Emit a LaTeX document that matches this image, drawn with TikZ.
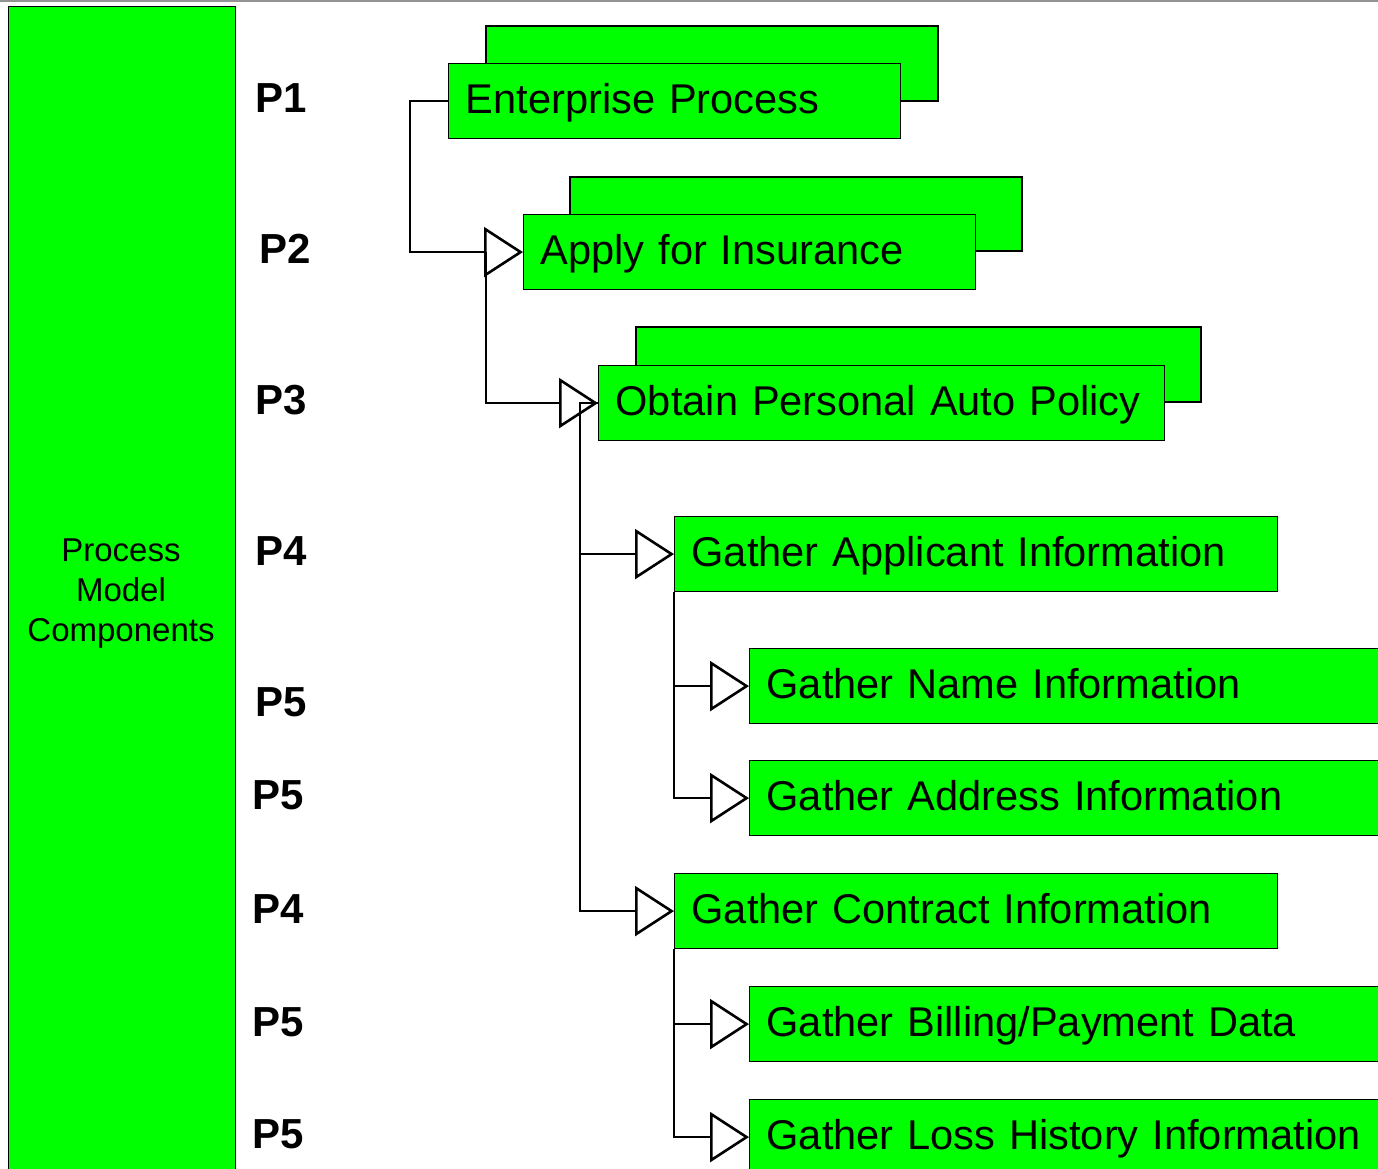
\documentclass[tikz,border=0pt]{standalone}
\usepackage{fontspec}
\setmainfont{Liberation Sans}
\usetikzlibrary{arrows.meta}
\definecolor{boxgreen}{HTML}{00FF00}
\begin{document}
\begin{tikzpicture}[x=1pt,y=-1pt,
  procbox/.style={draw=black, line width=1.2pt, fill=boxgreen, anchor=north west,
    inner xsep=17pt, inner ysep=0pt, minimum height=75pt, text width=#1, align=left,
    text height=32pt, text depth=7pt, font=\fontsize{41.6}{48}\selectfont},
  backbox/.style={draw=black, line width=1.2pt, fill=boxgreen},
  plabel/.style={anchor=west, inner sep=0pt, font=\fontsize{42}{48}\selectfont\bfseries},
  conn/.style={draw=black, line width=2pt,
    -{Triangle[open, length=39pt, width=50pt, line width=2.6pt, fill=white]}},
  trunk/.style={draw=black, line width=2pt}]
\useasboundingbox (0,0) rectangle (1378,1169);
\clip (0,0) rectangle (1378,1169);
\draw[gray!85, line width=1.6pt] (0,0.8) -- (1378,0.8);

% left bar
\node[draw=black, line width=1.2pt, fill=boxgreen, anchor=north west, minimum width=227pt,
  minimum height=1180pt, inner sep=0pt] (bar) at (8,6) {};
\node[align=center, font=\fontsize{33}{40}\selectfont, inner sep=0pt] (bartext) at (121,594)
  {Process\\Model\\Components};

% level labels
\node[plabel] (l1) at (255,98) {P1};
\node[plabel] (l2) at (259,249) {P2};
\node[plabel] (l3) at (255,400) {P3};
\node[plabel] (l4) at (255,551) {P4};
\node[plabel] (l5) at (255,702) {P5};
\node[plabel] (l6) at (252,795) {P5};
\node[plabel] (l7) at (252,909) {P4};
\node[plabel] (l8) at (252,1022) {P5};
\node[plabel] (l9) at (252,1134) {P5};

% stacked boxes (back sheets)
\draw[backbox] (486,26) rectangle (938,101);
\node[procbox=418pt] (ep) at (448,63) {Enterprise Process};
\draw[backbox] (570,177) rectangle (1022,251);
\node[procbox=418pt] (ai) at (523,214) {Apply for Insurance};
\draw[backbox] (636,327) rectangle (1201,402);
\node[procbox=532pt] (op) at (598,365) {Obtain Personal Auto Policy};

% single boxes
\node[procbox=569pt] (ga) at (674,516) {Gather Applicant Information};
\node[procbox=620pt] (gn) at (749,648) {Gather Name Information};
\node[procbox=620pt] (gd) at (749,760) {Gather Address Information};
\node[procbox=569pt] (gc) at (674,873) {Gather Contract Information};
\node[procbox=620pt] (gb) at (749,986) {Gather Billing/Payment Data};
\node[procbox=620pt] (gl) at (749,1099) {Gather Loss History Information};

% connectors
\draw[conn] (ep.west) -- ++(-38,0) |- (ai.west);
\draw[conn] ([xshift=-37pt]ai.west) |- (op.west);
\draw[conn] (op.west) -- ++(-18,0) |- (ga.west);
\draw[conn] (op.west) -- ++(-18,0) |- (gc.west);
\draw[conn] (ga.south west) |- (gn.west);
\draw[conn] (ga.south west) |- (gd.west);
\draw[conn] (gc.south west) |- (gb.west);
\draw[conn] (gc.south west) |- (gl.west);
\end{tikzpicture}
\end{document}
